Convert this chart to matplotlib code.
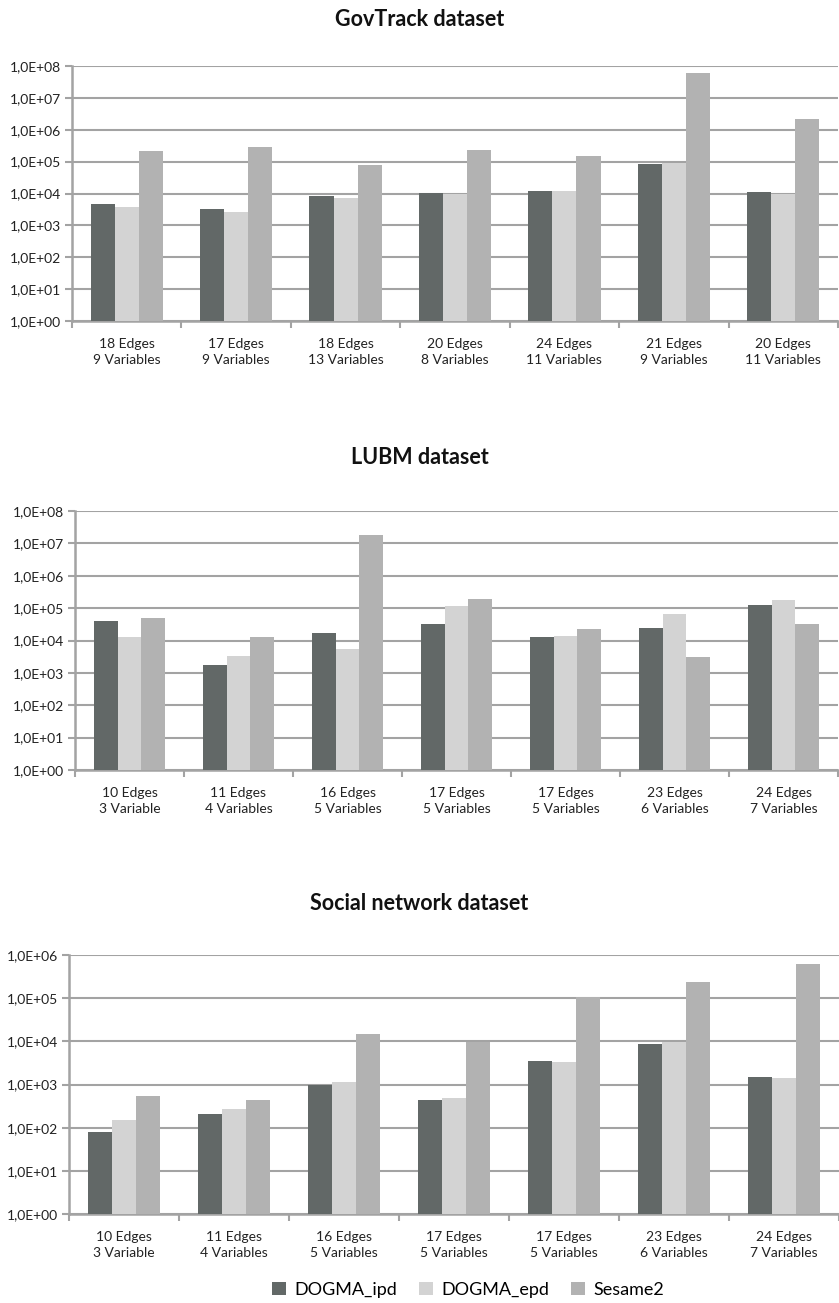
import matplotlib
matplotlib.use("Agg")
import matplotlib.pyplot as plt
import numpy as np
from matplotlib.ticker import FixedLocator, FixedFormatter, NullLocator

plt.rcParams['font.family'] = ['Lato', 'DejaVu Sans']

series_names = ["DOGMA_ipd", "DOGMA_epd", "Sesame2"]
colors = ["#626867", "#d3d3d3", "#b2b2b2"]

gov_categories = ["18 Edges\n9 Variables", "17 Edges\n9 Variables", "18 Edges\n13 Variables",
                  "20 Edges\n8 Variables", "24 Edges\n11 Variables", "21 Edges\n9 Variables",
                  "20 Edges\n11 Variables"]
gov_ipd = [4.6e3, 3.3e3, 8.3e3, 1.05e4, 1.18e4, 8.3e4, 1.1e4]
gov_epd = [3.8e3, 2.6e3, 7.2e3, 1.0e4, 1.18e4, 9.1e4, 9.6e3]
gov_sesame = [2.1e5, 2.8e5, 7.8e4, 2.4e5, 1.45e5, 6.0e7, 2.25e6]

lubm_categories = ["10 Edges\n3 Variable", "11 Edges\n4 Variables", "16 Edges\n5 Variables",
                   "17 Edges\n5 Variables", "17 Edges\n5 Variables", "23 Edges\n6 Variables",
                   "24 Edges\n7 Variables"]
lubm_ipd = [4.0e4, 1.8e3, 1.65e4, 3.2e4, 1.26e4, 2.5e4, 1.26e5]
lubm_epd = [1.26e4, 3.3e3, 5.3e3, 1.15e5, 1.4e4, 6.4e4, 1.8e5]
lubm_sesame = [5.0e4, 1.26e4, 1.8e7, 1.9e5, 2.2e4, 3.1e3, 3.2e4]

social_categories = ["10 Edges\n3 Variable", "11 Edges\n4 Variables", "16 Edges\n5 Variables",
                     "17 Edges\n5 Variables", "17 Edges\n5 Variables", "23 Edges\n6 Variables",
                     "24 Edges\n7 Variables"]
social_ipd = [79, 205, 970, 435, 3.5e3, 8.5e3, 1.5e3]
social_epd = [150, 275, 1140, 485, 3.4e3, 9.4e3, 1.4e3]
social_sesame = [550, 435, 1.44e4, 9.6e3, 1.05e5, 2.35e5, 6.1e5]

W, H = 839, 1303
fig = plt.figure(figsize=(W / 100, H / 100), dpi=100)

grid_color = "#a3a3a3"

def panel(rect, title, title_y, cats, data, max_exp):
    l, t, r, b = rect
    ax = fig.add_axes([l / W, 1 - b / H, (r - l) / W, (b - t) / H])
    x = np.arange(len(cats))
    bw = 0.22
    for i, (vals, c) in enumerate(zip(data, colors)):
        ax.bar(x + (i - 1) * bw, vals, width=bw, color=c, zorder=3,
               label=series_names[i], linewidth=0)
    ax.set_yscale("log")
    ax.set_ylim(1, 10 ** max_exp)
    ax.set_xlim(-0.5, len(cats) - 0.5)
    ticks = [10 ** k for k in range(max_exp + 1)]
    ax.yaxis.set_major_locator(FixedLocator(ticks))
    ax.yaxis.set_major_formatter(FixedFormatter(["1,0E+%02d" % k for k in range(max_exp + 1)]))
    ax.yaxis.set_minor_locator(NullLocator())
    ax.grid(axis="y", color=grid_color, linewidth=1.5, zorder=0)
    ax.set_axisbelow(True)
    ax.xaxis.set_major_locator(FixedLocator(np.arange(-0.5, len(cats), 1.0)))
    ax.xaxis.set_major_formatter(FixedFormatter([""] * (len(cats) + 1)))
    ax.xaxis.set_minor_locator(FixedLocator(x))
    ax.xaxis.set_minor_formatter(FixedFormatter(cats))
    ax.tick_params(axis="x", which="major", length=5, width=1.5, color=grid_color, direction="out")
    ax.tick_params(axis="x", which="minor", length=0, pad=12, labelsize=10, labelcolor="#222222")
    ax.tick_params(axis="y", which="major", length=5, width=1.5, color=grid_color,
                   labelsize=10, labelcolor="#222222", pad=3)
    for lbl in ax.xaxis.get_minorticklabels():
        lbl.set_linespacing(1.45)
    for s in ["top", "right"]:
        ax.spines[s].set_visible(False)
    for s in ["left", "bottom"]:
        ax.spines[s].set_color(grid_color)
        ax.spines[s].set_linewidth(1.8)
    fig.text(0.5, 1 - title_y / H, title, ha="center", va="center",
             fontsize=15.5, fontweight="bold", color="#111111")
    return ax

panel((72, 66, 838, 321), "GovTrack dataset", 20, gov_categories,
      [gov_ipd, gov_epd, gov_sesame], 8)
panel((75, 511, 838, 770), "LUBM dataset", 458, lubm_categories,
      [lubm_ipd, lubm_epd, lubm_sesame], 8)
ax3 = panel((69, 955, 839, 1214), "Social network dataset", 903, social_categories,
            [social_ipd, social_epd, social_sesame], 6)

handles, labels = ax3.get_legend_handles_labels()
fig.legend(handles, labels, loc="center", bbox_to_anchor=(468 / W, 1 - 1290 / H), ncol=3,
           frameon=False, fontsize=13, handlelength=0.75, handleheight=0.75,
           handletextpad=0.45, columnspacing=1.25)

fig.savefig("out.png", dpi=100, facecolor="white")
